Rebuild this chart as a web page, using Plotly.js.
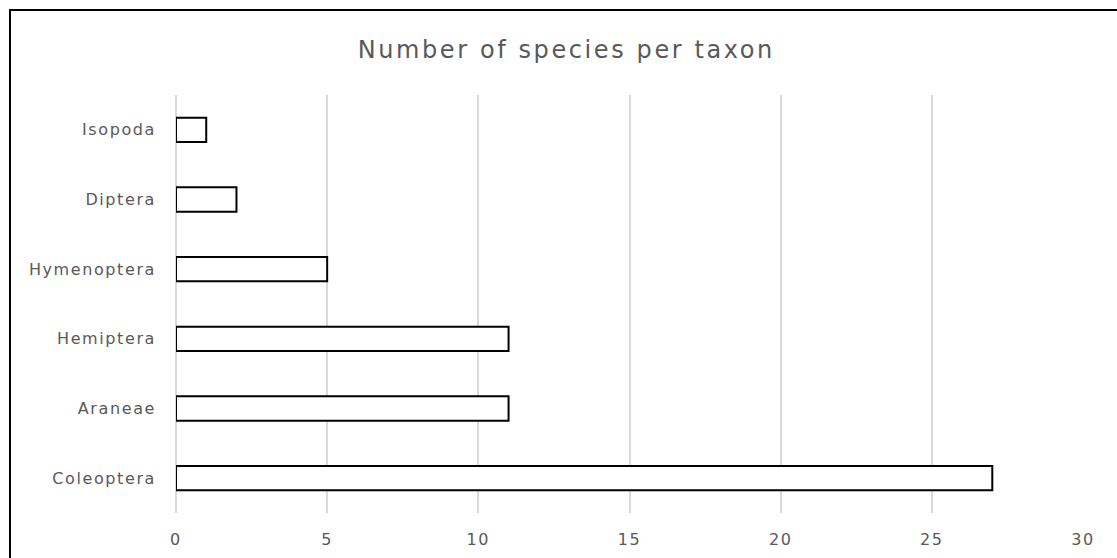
<!DOCTYPE html>
<html>
<head>
<meta charset="utf-8">
<script src="https://cdn.plot.ly/plotly-3.0.1.min.js"></script>
<style>
  html, body { margin: 0; padding: 0; background: #fff; overflow: hidden; }
  #frame { position: absolute; left: 9px; top: 9px; width: 1200px; height: 700px; border-left: 2px solid #000; border-top: 2px solid #000; }
  #chart { position: absolute; left: 0; top: 0; width: 1117px; height: 558px; }
  #chart .xtick text, #chart .ytick text { letter-spacing: 1.6px; }
  #chart .gtitle { letter-spacing: 2.6px; }
</style>
</head>
<body>
<div id="frame"></div>
<div id="chart"></div>
<script>
const taxa = ["Coleoptera", "Araneae", "Hemiptera", "Hymenoptera", "Diptera", "Isopoda"];
const speciesCounts = [27, 11, 11, 5, 2, 1];
const xTicks = [0, 5, 10, 15, 20, 25, 30];

const trace = {
  type: "bar",
  orientation: "h",
  y: taxa,
  x: speciesCounts,
  marker: { color: "#ffffff", line: { color: "#000000", width: 2 } },
  hoverinfo: "x+y"
};

const layout = {
  width: 1117,
  height: 558,
  paper_bgcolor: "rgba(0,0,0,0)",
  plot_bgcolor: "rgba(0,0,0,0)",
  margin: { l: 176, r: 34, t: 95, b: 45 },
  title: {
    text: "Number of species per taxon",
    font: { family: "DejaVu Sans", size: 24, color: "#595959" },
    x: 0.507, xanchor: "center", y: 0.912, yanchor: "middle"
  },
  bargap: 0.65,
  showlegend: false,
  xaxis: {
    range: [0, 30],
    tickvals: xTicks,
    ticktext: xTicks.map(String),
    showgrid: true,
    gridcolor: "#d9d9d9",
    gridwidth: 2,
    zeroline: true,
    zerolinecolor: "#d9d9d9",
    zerolinewidth: 2,
    showline: false,
    ticks: "",
    ticklabelstandoff: 15,
    tickfont: { family: "DejaVu Sans", size: 16, color: "#595959" }
  },
  yaxis: {
    type: "category",
    categoryorder: "array",
    categoryarray: taxa,
    showgrid: false,
    zeroline: false,
    showline: false,
    ticks: "",
    ticklabelstandoff: 19,
    tickfont: { family: "DejaVu Sans", size: 16, color: "#595959" }
  }
};

Plotly.newPlot("chart", [trace], layout, { displayModeBar: false, staticPlot: true });
</script>
</body>
</html>
